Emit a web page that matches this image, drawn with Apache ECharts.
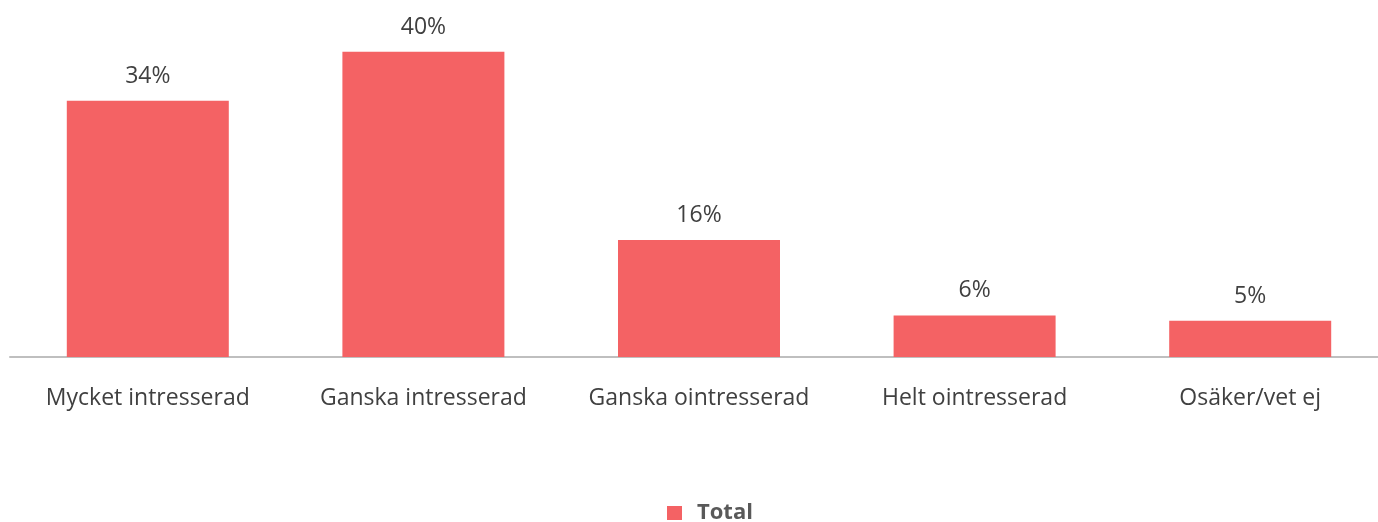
<!DOCTYPE html>
<html>
<head>
<meta charset="utf-8">
<script src="https://cdn.jsdelivr.net/npm/echarts@6/dist/echarts.min.js"></script>
<style>
	html, body { margin: 0; padding: 0; background: #fff; overflow: hidden; }
	/* a little wider than the window: the axis runs off the right edge */
	#chart { width: 1388px; height: 522px; }
</style>
</head>
<body>
<div id="chart"></div>
<script>
"use strict";

// data
const categories = ["Mycket intresserad", "Ganska intresserad", "Ganska ointresserad", "Helt ointresserad", "Osäker/vet ej"];
const totalValues = [33.9, 40.4, 15.5, 5.5, 4.8];
const totalLabels = ["34%", "40%", "16%", "6%", "5%"];
const seriesName = "Total";

const barColor = "#F46264";
const textColor = "#404040";
const font = "'Open Sans', 'Noto Sans', sans-serif";

const chart = echarts.init(document.getElementById("chart"));

chart.setOption({
	animation: false,
	color: [barColor],
	legend: {
		bottom: -7,
		left: 662,
		itemWidth: 15,
		itemHeight: 14,
		itemGap: 20,
		textStyle: { color: "#595959", fontFamily: font, fontSize: 22, fontWeight: "bold", padding: [0, 0, 0, 10] },
		data: [{ name: seriesName, icon: "rect" }]
	},
	grid: { left: 10, right: 0, top: 17, bottom: 165, containLabel: false },
	xAxis: {
		type: "category",
		data: categories,
		axisLine: { lineStyle: { color: "#BFBFBF", width: 2 } },
		axisTick: { show: false },
		axisLabel: { color: textColor, fontFamily: font, fontSize: 23, margin: 30, interval: 0 }
	},
	yAxis: {
		type: "value",
		min: 0,
		max: 45,
		show: false,
		splitLine: { show: false }
	},
	series: [{
		name: seriesName,
		type: "bar",
		data: totalValues,
		barWidth: 162,
		label: {
			show: true,
			position: "top",
			distance: 13,
			color: textColor,
			fontFamily: font,
			fontSize: 23,
			formatter: (p) => totalLabels[p.dataIndex]
		}
	}]
});
</script>
</body>
</html>
